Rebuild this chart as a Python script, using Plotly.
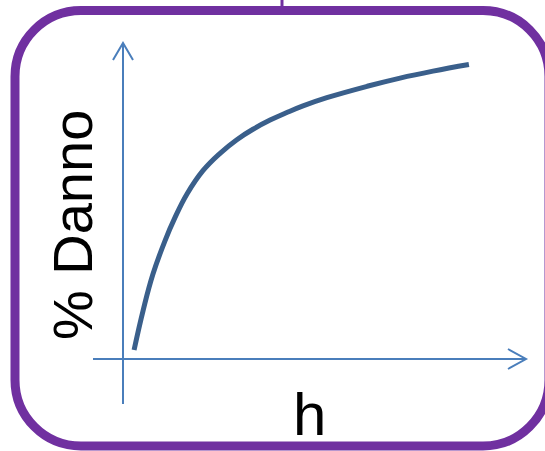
import plotly.graph_objects as go

# Depth-damage curve: water depth h (arbitrary units) vs % damage
depth_h = [0.33, 0.6, 0.89, 1.25, 1.55, 1.91, 2.38, 2.89, 3.39, 3.87, 4.38, 4.88, 5.36, 6.07, 7.27, 8.25, 9.23, 10.3]
damage_pct = [2.85, 15.4, 26.8, 37.4, 44.8, 52.3, 59.6, 65.1, 69.4, 72.7, 75.6, 78.0, 80.1, 82.7, 86.3, 88.9, 91.1, 93.2]

x_label = "h"
y_label = "% Danno"

W, H = 545, 451
PURPLE = "#7030A0"
AXIS_BLUE = "#4A7EBB"
CURVE_BLUE = "#3A5F8B"

# Data axes span (in pixels): origin at (123, 359)
x0_px, x1_px = 123, 526
y0_px, y1_px = 359, 43
h_range = [0, 12]
d_range = [0, 100]

fig = go.Figure()

# Pixel-space axes (x/y) carry the frame, arrows and labels
fig.add_trace(go.Scatter(x=[None], y=[None], xaxis="x", yaxis="y", showlegend=False))

# Data axes (x2/y2) carry the curve
fig.add_trace(go.Scatter(
    x=depth_h, y=damage_pct, mode="lines",
    line=dict(color=CURVE_BLUE, width=5, shape="spline", smoothing=1.2, simplify=False),
    xaxis="x2", yaxis="y2", hoverinfo="skip", showlegend=False,
))

def rounded_rect(l, t, r, b, rad):
    k = 0.5523 * rad
    return (f"M {l+rad},{t} L {r-rad},{t} "
            f"C {r-rad+k},{t} {r},{t+rad-k} {r},{t+rad} "
            f"L {r},{b-rad} "
            f"C {r},{b-rad+k} {r-rad+k},{b} {r-rad},{b} "
            f"L {l+rad},{b} "
            f"C {l+rad-k},{b} {l},{b-rad+k} {l},{b-rad} "
            f"L {l},{t+rad} "
            f"C {l},{t+rad-k} {l+rad-k},{t} {l+rad},{t} Z")

shapes = [
    dict(type="path", xref="x", yref="y", path=rounded_rect(15, 10.5, 549, 446, 66),
         line=dict(color=PURPLE, width=9), fillcolor="rgba(0,0,0,0)"),
    dict(type="line", xref="x", yref="y", x0=282, x1=282, y0=-2, y1=10,
         line=dict(color=PURPLE, width=3)),
    # vertical axis with open arrowhead
    dict(type="line", xref="x", yref="y", x0=x0_px, x1=x0_px, y0=404, y1=y1_px,
         line=dict(color=AXIS_BLUE, width=2)),
    dict(type="path", xref="x", yref="y",
         path=f"M {x0_px-10},{y1_px+17} L {x0_px},{y1_px} L {x0_px+10},{y1_px+17}",
         line=dict(color=AXIS_BLUE, width=2)),
    # horizontal axis with open arrowhead
    dict(type="line", xref="x", yref="y", x0=93, x1=x1_px, y0=y0_px, y1=y0_px,
         line=dict(color=AXIS_BLUE, width=2)),
    dict(type="path", xref="x", yref="y",
         path=f"M {x1_px-18},{y0_px-10} L {x1_px},{y0_px} L {x1_px-18},{y0_px+10}",
         line=dict(color=AXIS_BLUE, width=2)),
]

annotations = [
    dict(text=y_label, xref="x", yref="y", x=72.6, y=225.5, showarrow=False,
         textangle=-90, xanchor="center", yanchor="middle",
         font=dict(family="Liberation Sans", size=56, color="black")),
    dict(text=x_label, xref="x", yref="y", x=309.5, y=414, showarrow=False,
         xanchor="center", yanchor="middle",
         font=dict(family="Liberation Sans", size=60, color="black")),
]

hidden = dict(visible=False, showgrid=False, zeroline=False, showticklabels=False, fixedrange=True)

fig.update_layout(
    width=W, height=H,
    margin=dict(l=0, r=0, t=0, b=0, pad=0),
    paper_bgcolor="white", plot_bgcolor="rgba(0,0,0,0)",
    xaxis=dict(domain=[0, 1], range=[0, W], anchor="y", **hidden),
    yaxis=dict(domain=[0, 1], range=[H, 0], anchor="x", **hidden),
    xaxis2=dict(domain=[x0_px / W, x1_px / W], range=h_range, anchor="y2", **hidden),
    yaxis2=dict(domain=[1 - y0_px / H, 1 - y1_px / H], range=d_range, anchor="x2", **hidden),
    shapes=shapes,
    annotations=annotations,
    showlegend=False,
)

fig.write_html("out.html")
